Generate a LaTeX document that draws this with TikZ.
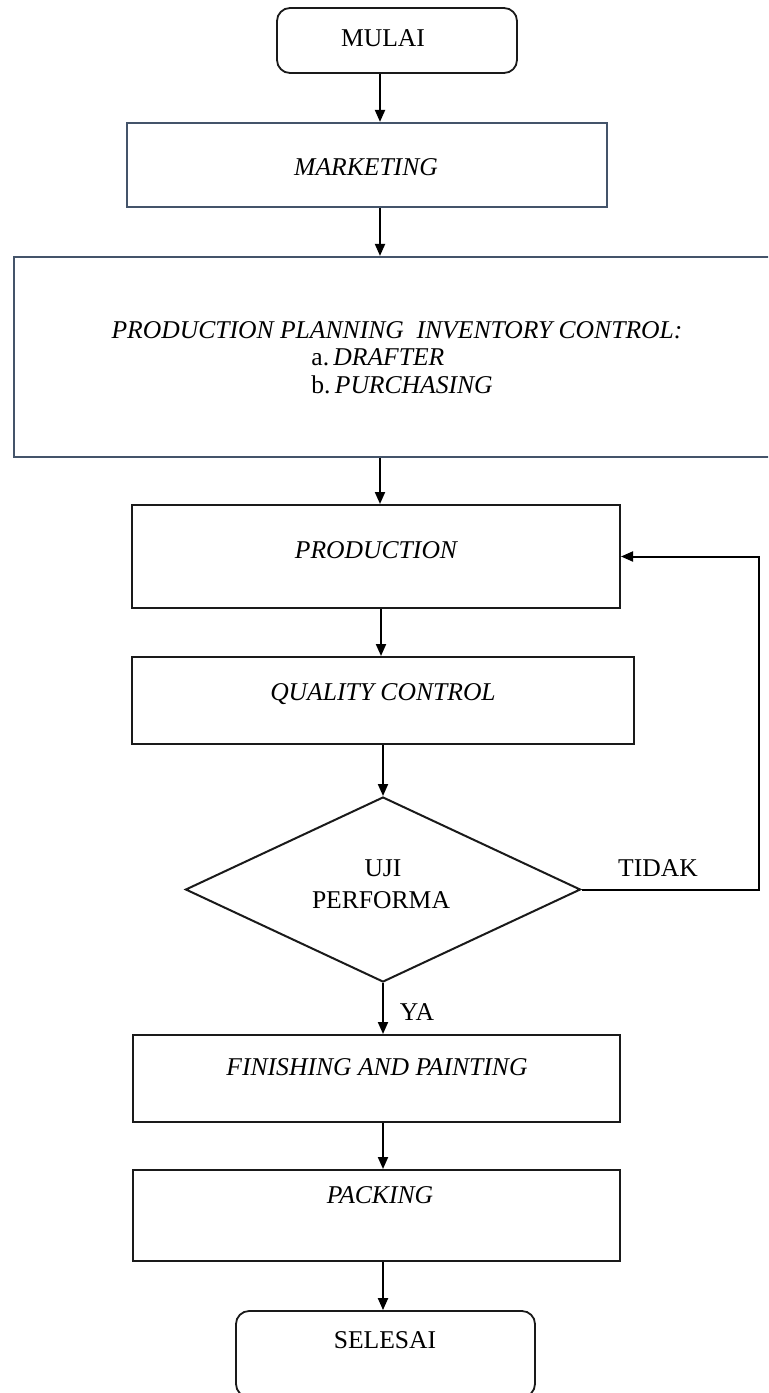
\documentclass[tikz,border=0pt]{standalone}
\usepackage{fontspec}
\setmainfont{Liberation Serif}
\usetikzlibrary{arrows.meta,shapes.geometric}
\definecolor{bluegrey}{HTML}{44546A}
\definecolor{ink}{HTML}{1A1A1A}
\begin{document}
\begin{tikzpicture}[x=0.5pt,y=-0.5pt,
  font=\fontsize{12.8}{15}\selectfont,
  box/.style={draw=ink,line width=1pt,rectangle,inner sep=0pt},
  bluebox/.style={draw=bluegrey,line width=1.1pt,rectangle,inner sep=0pt},
  term/.style={draw=ink,line width=0.9pt,rectangle,rounded corners=6.5pt,inner sep=0pt},
  txt/.style={inner sep=0pt,anchor=base},
  arr/.style={draw=black,line width=1pt,-{Triangle[length=6pt,width=5pt]}}]
\path[use as bounding box] (0,0) rectangle (768,1393);
\clip (0,0) rectangle (768,1393);
% boxes
\node[term,minimum width=120pt,minimum height=32.5pt] (mulai) at (397,40.5) {};
\node[bluebox,minimum width=240pt,minimum height=42pt] (mkt) at (367,165) {};
\node[bluebox,minimum width=383pt,minimum height=100pt] (ppic) at (397,357) {};
\node[box,minimum width=244pt,minimum height=51.5pt] (prod) at (376,556.5) {};
\node[box,minimum width=251pt,minimum height=43.5pt] (qc) at (383,700.5) {};
\node[draw=ink,line width=1pt,diamond,inner sep=0pt,minimum width=197.5pt,minimum height=92.5pt] (dec) at (383,889.5) {};
\node[box,minimum width=243.5pt,minimum height=43.5pt] (fin) at (376.5,1078.5) {};
\node[box,minimum width=243.5pt,minimum height=45.5pt] (pack) at (376.5,1215.5) {};
\node[term,minimum width=149.5pt,minimum height=43pt] (sel) at (385.5,1354) {};
% texts
\node[txt] (tmulai) at (383,46.5) {MULAI};
\node[txt] (tmkt) at (366,175.5) {\itshape MARKETING};
\node[txt] (tppic1) at (397,338.5) {\itshape PRODUCTION PLANNING\ \ INVENTORY CONTROL:};
\node[txt,anchor=base west] (tppic2) at (311,365.5) {a.\,\textit{DRAFTER}};
\node[txt,anchor=base west] (tppic3) at (311,393.5) {b.\,\textit{PURCHASING}};
\node[txt] (tprod) at (376,558.5) {\itshape PRODUCTION};
\node[txt] (tqc) at (383,700.5) {\itshape QUALITY CONTROL};
\node[txt] (tuji) at (383,876.5) {UJI};
\node[txt] (tperf) at (381,908.5) {PERFORMA};
\node[txt] (ttidak) at (658,876.5) {TIDAK};
\node[txt] (tya) at (417,1020.5) {YA};
\node[txt] (tfin) at (377,1075.5) {\itshape FINISHING AND PAINTING};
\node[txt] (tpack) at (380,1203.5) {\itshape PACKING};
\node[txt] (tsel) at (385,1348.5) {SELESAI};
% connector guides
\coordinate (a1) at (380,0);
\coordinate (a2) at (381,0);
\coordinate (a3) at (383,0);
\coordinate (rx) at (759,0);
% connectors
\draw[arr] (mulai.south -| a1) -- (mkt.north -| a1);
\draw[arr] (mkt.south -| a1) -- (ppic.north -| a1);
\draw[arr] (ppic.south -| a1) -- (prod.north -| a1);
\draw[arr] (prod.south -| a2) -- (qc.north -| a2);
\draw[arr] (qc.south -| dec.north) -- (dec.north);
\draw[arr] (dec.south) -- (fin.north -| dec.south);
\draw[arr] (fin.south -| a3) -- (pack.north -| a3);
\draw[arr] (pack.south -| a3) -- (sel.north -| a3);
\draw[arr] (dec.east) -| (rx |- prod.east) -- (prod.east);
\end{tikzpicture}
\end{document}
